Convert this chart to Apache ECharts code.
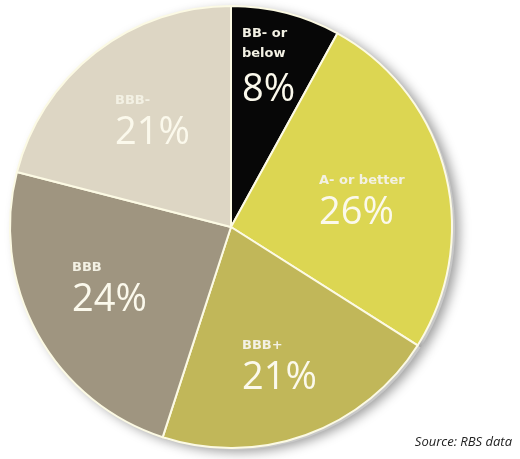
<!DOCTYPE html>
<html>
<head>
<meta charset="utf-8">
<script src="https://cdn.jsdelivr.net/npm/echarts@6/dist/echarts.min.js"></script>
<style>
  html, body { margin: 0; padding: 0; background: #ffffff; }
  #chart { width: 520px; height: 459px; }
</style>
</head>
<body>
<div id="chart"></div>
<script>
// ---- data ----
const categories = ['BB- or\nbelow', 'A- or better', 'BBB+', 'BBB', 'BBB-'];
const values = [8, 26, 21, 24, 21];
const sourceNote = 'Source: RBS data';

// ---- styling / layout (not data) ----
const colors = ['#070707', '#dcd652', '#c1b759', '#9f9580', '#ddd6c4'];
const labelAnchors = [[242, 24], [319, 171], [242, 336], [72, 258], [115, 91]];
const bigLineHeights = [52, 44, 44, 44, 44];

const chart = echarts.init(document.getElementById('chart'), null, { renderer: 'canvas' });

const pieData = categories.map((c, i) => ({
  name: c,
  value: values[i],
  itemStyle: { color: colors[i] },
  label: { rich: { b: { lineHeight: bigLineHeights[i] } } }
}));

chart.setOption({
  animation: false,
  backgroundColor: '#ffffff',
  title: {
    text: sourceNote,
    right: 3,
    bottom: 5,
    textStyle: {
      fontFamily: 'Open Sans',
      fontStyle: 'italic',
      fontWeight: 'normal',
      fontSize: 13,
      color: '#222222'
    }
  },
  series: [
    {
      // soft shadow layer under the pie, built from the same data
      type: 'pie',
      silent: true,
      z: 1,
      center: [234, 229],
      radius: 221,
      startAngle: 90,
      clockwise: true,
      label: { show: false },
      labelLine: { show: false },
      itemStyle: {
        color: '#c8c8c8',
        shadowBlur: 12,
        shadowColor: 'rgba(0,0,0,0.4)',
        shadowOffsetX: 4,
        shadowOffsetY: 2
      },
      data: values.map((v, i) => ({ name: categories[i], value: v }))
    },
    {
      type: 'pie',
      z: 2,
      center: [231, 227],
      radius: 221,
      startAngle: 90,
      clockwise: true,
      itemStyle: {
        borderColor: '#fcfae4',
        borderWidth: 2
      },
      label: {
        show: true,
        position: 'inside',
        formatter: p => '{a|' + p.name.split('\n').join('}\n{a|') + '}\n{b|' + p.value + '%}',
        rich: {
          a: {
            fontFamily: 'DejaVu Sans',
            fontWeight: 'bold',
            fontSize: 13,
            lineHeight: 20,
            color: '#f3f1e4',
            align: 'left'
          },
          b: {
            fontFamily: 'Open Sans',
            fontSize: 38,
            lineHeight: 44,
            color: '#fbf9ec',
            align: 'left'
          }
        }
      },
      labelLine: { show: false },
      labelLayout: function (params) {
        const a = labelAnchors[params.dataIndex];
        return { x: a[0], y: a[1], align: 'left', verticalAlign: 'top' };
      },
      data: pieData
    }
  ]
});
</script>
</body>
</html>
